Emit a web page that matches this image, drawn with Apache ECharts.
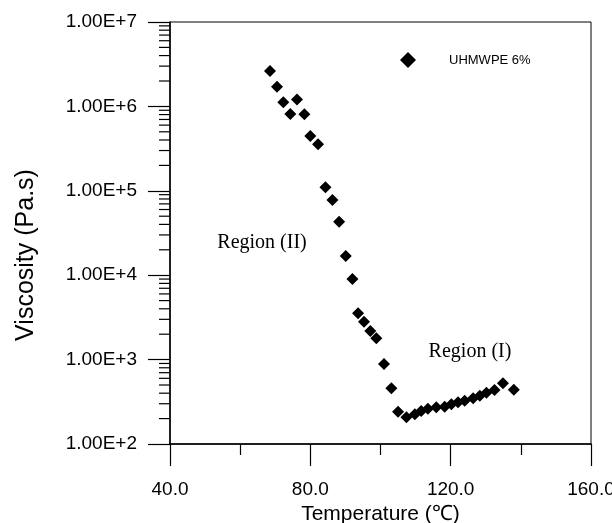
<!DOCTYPE html>
<html><head><meta charset="utf-8">
<script src="https://cdn.jsdelivr.net/npm/echarts@6/dist/echarts.min.js"></script>
<style>html,body{margin:0;padding:0;background:#fff}#c{width:612px;height:523px}</style>
</head><body><div id="c"></div>
<script>
const seriesName = 'UHMWPE 6%';
const temperature = [68.5,70.5,72.3,76.2,74.3,78.3,80.0,82.2,84.3,86.3,88.2,90.1,92.0,93.6,95.3,97.1,98.8,101.0,103.1,105.0,107.4,109.8,111.6,113.5,115.9,118.3,120.2,122.1,124.0,126.4,128.3,130.2,132.5,134.9,138.0];
const viscosity = [2.63e6,1.71e6,1.12e6,1.21e6,8.1e5,8.06e5,4.46e5,3.55e5,1.10e5,7.8e4,4.3e4,1.69e4,9.0e3,3.54e3,2.81e3,2.18e3,1.79e3,887,457,241,207,225,246,262,272,277,295,312,326,348,373,405,436,524,440];
const xTicks = [40, 80, 120, 160];
const yDecades = [1e2, 1e3, 1e4, 1e5, 1e6, 1e7];
const yMinorTicks = [];
for (let i = 0; i < yDecades.length - 1; i++) for (let k = 2; k <= 9; k++) yMinorTicks.push(k * yDecades[i]);
const annotations = [{text: 'Region (II)', x: 262, y: 243}, {text: 'Region (I)', x: 470, y: 352}];

const chart = echarts.init(document.getElementById('c'));
const sans = 'Liberation Sans, Arial, sans-serif';
chart.setOption({
  animation: false,
  grid: {left: 170, right: 21, top: 22, bottom: 79, show: true, borderColor: '#000', borderWidth: 1, outerBoundsMode: 'none', containLabel: false},
  legend: {
    data: [{name: seriesName, icon: 'diamond'}],
    left: 395, top: 47, itemWidth: 16, itemHeight: 16,
    textStyle: {fontFamily: sans, fontSize: 13, color: '#000', padding: [0, 0, 0, 28]}
  },
  xAxis: {
    type: 'value', min: xTicks[0], max: xTicks[xTicks.length - 1], interval: 40,
    name: 'Temperature (℃)', nameLocation: 'middle', nameGap: 55,
    nameTextStyle: {fontFamily: sans, fontSize: 21, color: '#000'},
    axisLine: {lineStyle: {color: '#000', width: 1.5}},
    axisTick: {length: 22, lineStyle: {color: '#000', width: 1.2}},
    minorTick: {show: true, splitNumber: 2, length: 11, lineStyle: {color: '#000', width: 1.2}},
    splitLine: {show: false},
    axisLabel: {fontFamily: sans, fontSize: 19, color: '#000', margin: 36, formatter: v => v.toFixed(1)}
  },
  yAxis: {
    type: 'log', logBase: 10, min: yDecades[0], max: yDecades[yDecades.length - 1],
    name: 'Viscosity (Pa.s)', nameLocation: 'middle', nameGap: 131, nameRotate: 90,
    nameTextStyle: {fontFamily: sans, fontSize: 25, color: '#000', padding: [0, 44, 0, 0]},
    axisLine: {lineStyle: {color: '#000', width: 1.5}},
    axisTick: {length: 22, lineStyle: {color: '#000', width: 1.2}},
    minorTick: {show: false},
    splitLine: {show: false},
    axisLabel: {fontFamily: sans, fontSize: 19, color: '#000', margin: 33,
      formatter: v => Number(v).toExponential(2).toUpperCase()}
  },
  graphic: annotations.map(a => ({
    type: 'text', x: a.x, y: a.y,
    style: {text: a.text, font: '20px "Liberation Serif", "Times New Roman", serif', fill: '#000', align: 'center', verticalAlign: 'middle'}
  })),
  series: [
    {
      name: seriesName, type: 'scatter', symbol: 'diamond', symbolSize: 12,
      itemStyle: {color: '#000', opacity: 1},
      data: temperature.map((t, i) => [t, viscosity[i]])
    },
    {
      name: 'minorTicks', type: 'custom', silent: true, clip: false,
      data: yMinorTicks.map(v => [xTicks[0], v]),
      renderItem: (params, api) => {
        const p = api.coord([api.value(0), api.value(1)]);
        return {type: 'line', shape: {x1: p[0] - 11, y1: p[1], x2: p[0], y2: p[1]}, style: {stroke: '#000', lineWidth: 1.2}};
      }
    }
  ]
});
</script></body></html>
